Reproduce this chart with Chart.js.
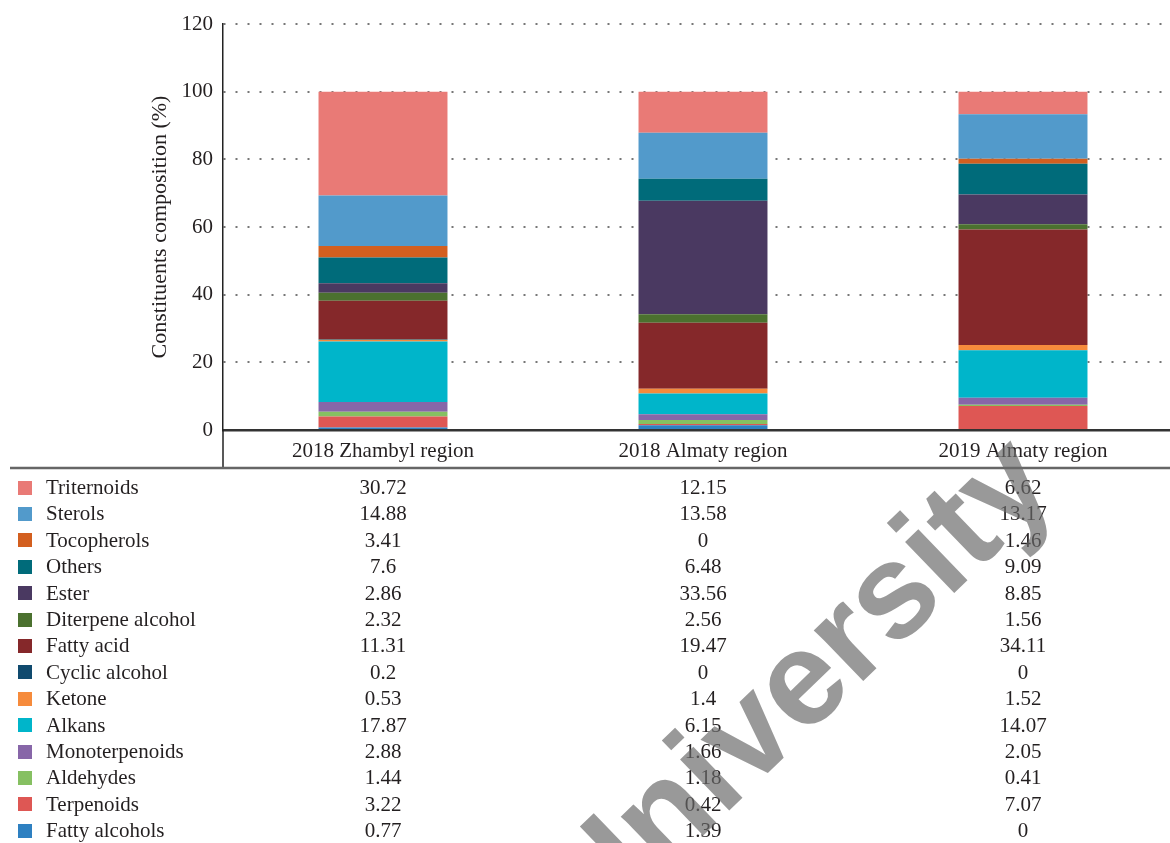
<!DOCTYPE html>
<html>
<head>
<meta charset="utf-8">
<script src="https://cdn.jsdelivr.net/npm/chart.js@4.4.1/dist/chart.umd.min.js"></script>
<style>
  html, body { margin: 0; padding: 0; background: #fff; overflow: hidden; }
  #wrap { position: relative; width: 1200px; height: 843px; }
</style>
</head>
<body>
<div id="wrap"><canvas id="c" width="1200" height="843"></canvas></div>
<script>
// Sample groups
const categories = ['2018 Zhambyl region', '2018 Almaty region', '2019 Almaty region'];
const yTicks = [0, 20, 40, 60, 80, 100, 120];

// Constituent shares (%), one value per sample group
const fattyAlcohols    = [0.77, 1.39, 0];
const terpenoids       = [3.22, 0.42, 7.07];
const aldehydes        = [1.44, 1.18, 0.41];
const monoterpenoids   = [2.88, 1.66, 2.05];
const alkans           = [17.87, 6.15, 14.07];
const ketone           = [0.53, 1.4, 1.52];
const cyclicAlcohol    = [0.2, 0, 0];
const fattyAcid        = [11.31, 19.47, 34.11];
const diterpeneAlcohol = [2.32, 2.56, 1.56];
const ester            = [2.86, 33.56, 8.85];
const others           = [7.6, 6.48, 9.09];
const tocopherols      = [3.41, 0, 1.46];
const sterols          = [14.88, 13.58, 13.17];
const triternoids      = [30.72, 12.15, 6.62];

// Stack order, bottom to top
const series = [
  { name: 'Fatty alcohols',    data: fattyAlcohols,    color: '#2E80C1' },
  { name: 'Terpenoids',        data: terpenoids,       color: '#DE5754' },
  { name: 'Aldehydes',         data: aldehydes,        color: '#86C062' },
  { name: 'Monoterpenoids',    data: monoterpenoids,   color: '#8766A8' },
  { name: 'Alkans',            data: alkans,           color: '#00B5CA' },
  { name: 'Ketone',            data: ketone,           color: '#F68B3C' },
  { name: 'Cyclic alcohol',    data: cyclicAlcohol,    color: '#104A6E' },
  { name: 'Fatty acid',        data: fattyAcid,        color: '#85282A' },
  { name: 'Diterpene alcohol', data: diterpeneAlcohol, color: '#4B712F' },
  { name: 'Ester',             data: ester,            color: '#4A3961' },
  { name: 'Others',            data: others,           color: '#006B7A' },
  { name: 'Tocopherols',       data: tocopherols,      color: '#D35F1F' },
  { name: 'Sterols',           data: sterols,          color: '#529ACB' },
  { name: 'Triternoids',       data: triternoids,      color: '#E97A76' }
];

const SERIF = '"Liberation Serif", "DejaVu Serif", serif';
const TEXT = '#231F20';

Chart.defaults.font.family = SERIF;
Chart.defaults.font.size = 21;
Chart.defaults.color = TEXT;

// Data table under the plot: colour key, series name and one value per group
const dataTable = {
  id: 'dataTable',
  afterDraw(chart) {
    const { ctx, chartArea } = chart;
    const xs = chart.scales.x;
    const tableTop = 468;
    ctx.save();

    // axis line continues down to the table rule
    ctx.strokeStyle = '#222';
    ctx.lineWidth = 1.5;
    ctx.beginPath();
    ctx.moveTo(chartArea.left, chartArea.bottom);
    ctx.lineTo(chartArea.left, tableTop);
    ctx.stroke();

    ctx.strokeStyle = '#666';
    ctx.lineWidth = 2.5;
    ctx.beginPath();
    ctx.moveTo(10, tableTop);
    ctx.lineTo(chart.width, tableTop);
    ctx.stroke();

    ctx.font = '21px ' + SERIF;
    ctx.textBaseline = 'middle';
    const rows = series.slice().reverse();
    const firstRow = 487.5, rowStep = 26.4;
    rows.forEach((s, i) => {
      const y = firstRow + i * rowStep;
      ctx.fillStyle = s.color;
      ctx.fillRect(18, Math.round(y - 7), 14, 14);
      ctx.fillStyle = TEXT;
      ctx.textAlign = 'left';
      ctx.fillText(s.name, 46, y + 1);
      ctx.textAlign = 'center';
      s.data.forEach((v, j) => {
        ctx.fillText(String(v), xs.getPixelForValue(j), y + 1);
      });
    });
    ctx.restore();
  }
};

// Diagonal stamp across the lower right
const stamp = {
  id: 'stamp',
  afterDraw(chart) {
    const { ctx } = chart;
    ctx.save();
    ctx.translate(594, 941);
    ctx.rotate(-44 * Math.PI / 180);
    ctx.font = 'bold 134px "Liberation Sans", Arial, sans-serif';
    ctx.fillStyle = 'rgba(105,105,105,0.68)';
    ctx.textBaseline = 'alphabetic';
    ctx.textAlign = 'left';
    ctx.fillText('University', 0, 0);
    ctx.restore();
  }
};

new Chart(document.getElementById('c'), {
  type: 'bar',
  data: {
    labels: categories,
    datasets: series.map(s => ({
      label: s.name,
      data: s.data,
      backgroundColor: s.color,
      borderWidth: 0,
      barPercentage: 0.403,
      categoryPercentage: 1
    }))
  },
  options: {
    responsive: false,
    animation: false,
    devicePixelRatio: 1,
    layout: { padding: { top: 24, right: 17, bottom: 843 - 468, left: 0 } },
    plugins: { legend: { display: false }, tooltip: { enabled: false } },
    scales: {
      x: {
        stacked: true,
        grid: { display: false, drawTicks: false },
        border: { display: true, color: '#333', width: 2.5 },
        ticks: { padding: 9, color: TEXT, font: { size: 21 } },
        afterFit(scale) { scale.height = 38; }
      },
      y: {
        stacked: true,
        min: yTicks[0],
        max: yTicks[yTicks.length - 1],
        afterBuildTicks(scale) { scale.ticks = yTicks.map(v => ({ value: v })); },
        grid: { color: '#777', lineWidth: 2, drawTicks: false },
        border: { display: true, color: '#222', width: 1.5, dash: [2, 10] },
        ticks: { padding: 10, color: TEXT, font: { size: 21 } },
        title: {
          display: true,
          text: 'Constituents composition (%)',
          color: TEXT,
          font: { size: 22 },
          padding: { top: 147, bottom: 0 }
        },
        afterFit(scale) { scale.width = 223; }
      }
    }
  },
  plugins: [dataTable, stamp]
});
</script>
</body>
</html>
